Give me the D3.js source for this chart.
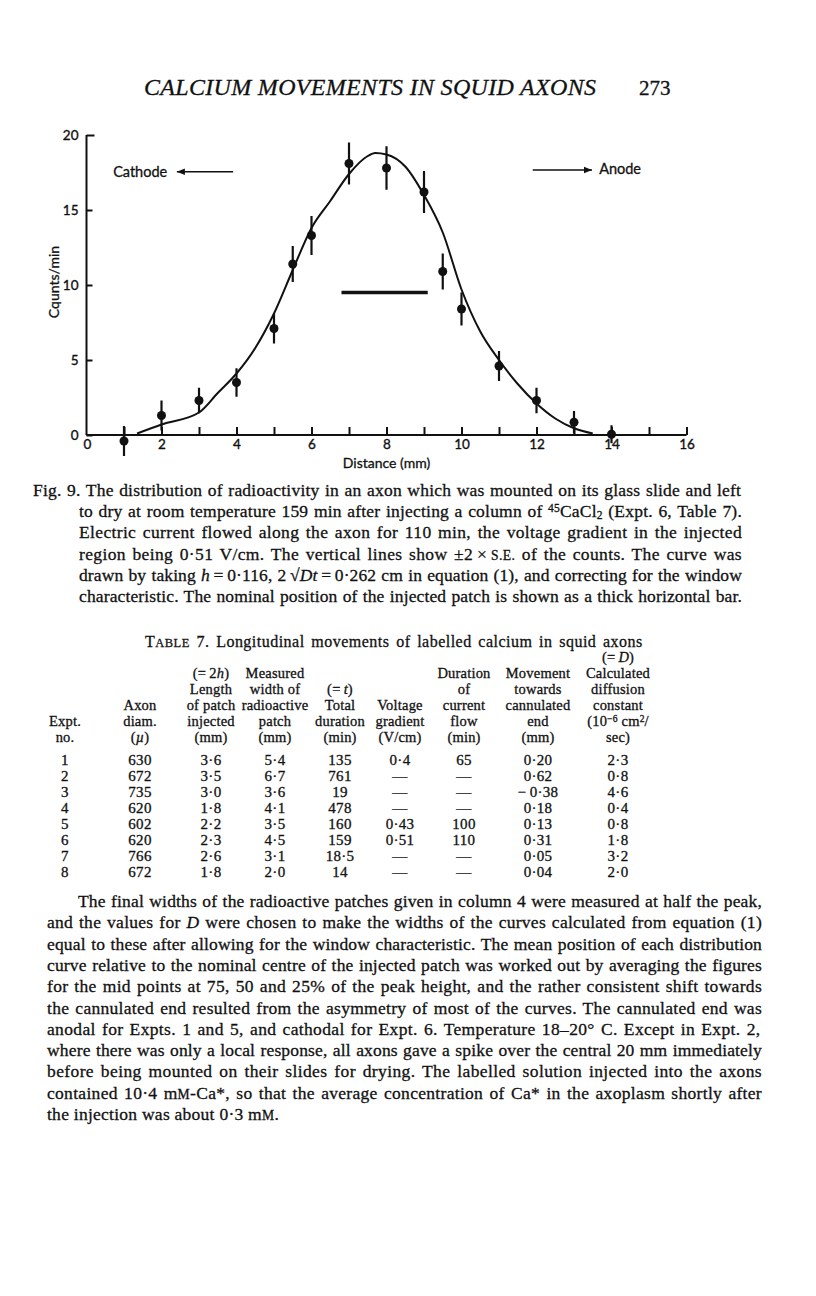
<!DOCTYPE html>
<html><head><meta charset="utf-8">
<script src="https://cdn.jsdelivr.net/npm/d3@7"></script>
<style>html,body{margin:0;padding:0;background:#fff}</style>
</head><body><svg id="page" width="816" height="1296" xmlns="http://www.w3.org/2000/svg"></svg>
<script>
// ---------- chart data (Fig. 9) ----------
const distanceMm = [1, 2, 3, 4, 5, 5.5, 6, 7, 8, 9, 9.5, 10, 11, 12, 13, 14];
const countsPerMin = [-0.4, 1.3, 2.3, 3.5, 7.1, 11.4, 13.3, 18.1, 17.8, 16.2, 10.9, 8.4, 4.6, 2.3, 0.85, 0.05];
const twoSE = [1.0, 1.0, 0.85, 0.95, 1.0, 1.2, 1.3, 1.4, 1.45, 1.4, 1.2, 1.1, 1.0, 0.85, 0.75, 0.6];
const curveX = [1.35, 2, 3, 3.5, 4, 4.5, 5, 5.5, 6, 6.5, 7, 7.5, 7.7, 8, 8.5, 9, 9.5, 10, 10.5, 11, 11.5, 12, 12.5, 13, 13.5];
const curveY = [0.1, 0.7, 1.5, 2.8, 4.1, 5.8, 8.1, 11.0, 13.8, 15.6, 17.4, 18.6, 18.8, 18.7, 17.9, 16.0, 13.5, 9.7, 6.9, 5.0, 3.4, 2.1, 1.1, 0.45, 0.1];
const patchStart = 6.8, patchEnd = 9.1, patchLevel = 9.5;
const xTicks = [1, 2, 3, 4, 5, 6, 7, 8, 9, 10, 11, 12, 13, 14, 15, 16];
const xTickLabels = [0, 2, 4, 6, 8, 10, 12, 14, 16];
const yTicks = [0, 5, 10, 15, 20];

// ---------- table data (Table 7) ----------
const exptNo = [1, 2, 3, 4, 5, 6, 7, 8];
const axonDiam = [630, 672, 735, 620, 602, 620, 766, 672];
const patchLength = [3.6, 3.5, 3.0, 1.8, 2.2, 2.3, 2.6, 1.8];
const measuredWidth = [5.4, 6.7, 3.6, 4.1, 3.5, 4.5, 3.1, 2.0];
const totalDuration = [135, 761, 19, 478, 160, 159, 18.5, 14];
const voltageGradient = [0.4, null, null, null, 0.43, 0.51, null, null];
const currentDuration = [65, null, null, null, 100, 110, null, null];
const movement = [0.20, 0.62, -0.38, 0.18, 0.13, 0.31, 0.05, 0.04];
const diffusionConst = [2.3, 0.8, 4.6, 0.4, 0.8, 1.8, 3.2, 2.0];

// ---------- texts ----------
const pageTitle = "CALCIUM MOVEMENTS IN SQUID AXONS";
const pageNumber = "273";
const captionLines = [
  "Fig. 9.  The distribution of radioactivity in an axon which was mounted on its glass slide and left",
  "to dry at room temperature 159 min after injecting a column of ^{45}CaCl_{2} (Expt. 6, Table 7).",
  "Electric current flowed along the axon for 110 min, the voltage gradient in the injected",
  "region being 0·51 V/cm. The vertical lines show ±2\u2009×\u2009~{s.e.} of the counts. The curve was",
  "drawn by taking *{h}\u2009=\u20090·116, 2\u2009√*{Dt}\u2009=\u20090·262 cm in equation (1), and correcting for the window",
  "characteristic. The nominal position of the injected patch is shown as a thick horizontal bar."
];
const tableTitle = "T~{able} 7.  Longitudinal movements of labelled calcium in squid axons";
const tableHeaders = [
  ["Expt.", "no."],
  ["Axon", "diam.", "(*{µ})"],
  ["(=\u20092*{h})", "Length", "of patch", "injected", "(mm)"],
  ["Measured", "width of", "radioactive", "patch", "(mm)"],
  ["(=\u2009*{t})", "Total", "duration", "(min)"],
  ["Voltage", "gradient", "(V/cm)"],
  ["Duration", "of", "current", "flow", "(min)"],
  ["Movement", "towards", "cannulated", "end", "(mm)"],
  ["(=\u2009*{D})", "Calculated", "diffusion", "constant", "(10^{−6} cm^{2}/", "sec)"]
];
const bodyLines = [
  "The final widths of the radioactive patches given in column 4 were measured at half the peak,",
  "and the values for *{D} were chosen to make the widths of the curves calculated from equation (1)",
  "equal to these after allowing for the window characteristic. The mean position of each distribution",
  "curve relative to the nominal centre of the injected patch was worked out by averaging the figures",
  "for the mid points at 75, 50 and 25% of the peak height, and the rather consistent shift towards",
  "the cannulated end resulted from the asymmetry of most of the curves. The cannulated end was",
  "anodal for Expts. 1 and 5, and cathodal for Expt. 6. Temperature 18–20° C.  Except in Expt. 2,",
  "where there was only a local response, all axons gave a spike over the central 20 mm immediately",
  "before being mounted on their slides for drying. The labelled solution injected into the axons",
  "contained 10·4 m~{m}-Ca*, so that the average concentration of Ca* in the axoplasm shortly after",
  "the injection was about 0·3 m~{m}."
];

// ---------- helpers ----------
const SERIF = "'Liberation Serif', 'Times New Roman', serif";
const SANS = "Lato, 'Open Sans', sans-serif";
const svg = d3.select('#page');
svg.append('rect').attr('width', 816).attr('height', 1296).attr('fill', '#fff');

function rich(g, str, x, y, size, anchor) {
  const t = g.append('text').attr('x', x).attr('y', y)
    .attr('font-family', SERIF).attr('font-size', size).attr('fill', '#111')
    .attr('stroke', '#111').attr('stroke-width', 0.3)
    .attr('text-anchor', anchor || 'start');
  const re = /([\^_*~])\{([^}]*)\}/g;
  let last = 0, m;
  while ((m = re.exec(str)) !== null) {
    if (m.index > last) t.append('tspan').text(str.slice(last, m.index));
    const s = t.append('tspan');
    if (m[1] === '^') s.attr('font-size', size * 0.66).attr('baseline-shift', '38%').text(m[2]);
    else if (m[1] === '_') s.attr('font-size', size * 0.66).attr('baseline-shift', '-20%').text(m[2]);
    else if (m[1] === '*') s.attr('font-style', 'italic').text(m[2]);
    else if (m[1] === '~') s.attr('font-size', size * 0.78).text(m[2].toUpperCase());
    last = re.lastIndex;
  }
  if (last < str.length) t.append('tspan').text(str.slice(last));
  return t;
}
// justify: put part of the slack into letter spacing, rest into word spacing
function justify(t, width, share) {
  const len = t.node().getComputedTextLength();
  const txt = t.text();
  const n = (txt.match(/ /g) || []).length;
  const chars = txt.length;
  let extra = width - len;
  let ls = Math.max(0, Math.min(1.2, extra * (share == null ? 0.55 : share) / chars));
  t.attr('letter-spacing', ls.toFixed(3));
  const len2 = t.node().getComputedTextLength();
  if (n) t.attr('word-spacing', ((width - len2) / n).toFixed(3));
  return ls;
}
const dot = s => s.replace('.', '·');

// ---------- running head ----------
svg.append('text').attr('x', 370).attr('y', 95).attr('text-anchor', 'middle')
  .attr('font-family', SERIF).attr('font-style', 'italic').attr('font-size', 24)
  .attr('textLength', 452).attr('lengthAdjust', 'spacing')
  .attr('fill', '#111').attr('stroke', '#111').attr('stroke-width', 0.3).text(pageTitle);
svg.append('text').attr('x', 639).attr('y', 95).attr('font-family', SERIF).attr('font-size', 21)
  .attr('fill', '#111').attr('stroke', '#111').attr('stroke-width', 0.3).text(pageNumber);

// ---------- chart ----------
const x = d3.scaleLinear().domain([0, 16]).range([86.5, 686.5]);
const y = d3.scaleLinear().domain([0, 20]).range([435, 135]);
const chart = svg.append('g');

const xAxis = d3.axisBottom(x).tickValues(xTicks).tickSize(-8).tickPadding(4)
  .tickFormat(d => xTickLabels.includes(d) ? d : '');
const gx = chart.append('g').attr('transform', `translate(0,${y(0)})`).call(xAxis);
gx.append('text').attr('x', x(0) + 1).attr('y', 4).attr('dy', '0.71em').attr('text-anchor', 'middle')
  .attr('fill', '#111').text(xTickLabels[0]);
const yAxis = d3.axisLeft(y).tickValues(yTicks).tickSize(-6).tickPadding(8);
const gy = chart.append('g').attr('transform', `translate(${x(0)},0)`).call(yAxis);
[gx, gy].forEach(g => {
  g.selectAll('.domain').attr('stroke', '#111').attr('stroke-width', 2);
  g.selectAll('line').attr('stroke', '#111').attr('stroke-width', 2);
  g.selectAll('text').attr('font-family', SANS).attr('font-size', 13.5).attr('fill', '#111')
    .attr('stroke', '#111').attr('stroke-width', 0.35);
});
gx.select('.domain').attr('d', `M${x(0)},0H${x(16)}`);
gy.select('.domain').attr('d', `M0,${y(0)}V${y(20)}`);
gy.selectAll('.tick').filter(d => d === 20).select('line').attr('x2', 8);

chart.append('text').attr('x', x(8)).attr('y', 468).attr('text-anchor', 'middle')
  .attr('font-family', SANS).attr('font-size', 14).attr('fill', '#111').attr('stroke', '#111').attr('stroke-width', 0.3)
  .text('Distance (mm)');
chart.append('text').attr('transform', `translate(59,${y(10.2)}) rotate(-90)`).attr('text-anchor', 'middle')
  .attr('font-family', SANS).attr('font-size', 14).attr('fill', '#111').attr('stroke', '#111').attr('stroke-width', 0.3)
  .text('Cqunts/min');

const curvePts = curveX.map((d, i) => [d, curveY[i]]);
chart.append('path').datum(curvePts)
  .attr('d', d3.line().x(d => x(d[0])).y(d => y(d[1])).curve(d3.curveMonotoneX))
  .attr('fill', 'none').attr('stroke', '#111').attr('stroke-width', 2);

const pts = distanceMm.map((d, i) => ({ d, c: countsPerMin[i], e: twoSE[i] }));
chart.append('g').selectAll('line').data(pts).join('line')
  .attr('x1', p => x(p.d)).attr('x2', p => x(p.d))
  .attr('y1', p => y(p.c - p.e)).attr('y2', p => y(p.c + p.e))
  .attr('stroke', '#111').attr('stroke-width', 2.2);
chart.append('g').selectAll('circle').data(pts).join('circle')
  .attr('cx', p => x(p.d)).attr('cy', p => y(p.c)).attr('r', 4.5).attr('fill', '#111');

chart.append('line').attr('x1', x(patchStart)).attr('x2', x(patchEnd))
  .attr('y1', y(patchLevel)).attr('y2', y(patchLevel)).attr('stroke', '#111').attr('stroke-width', 3.5);

function arrow(x1, x2, yy, dir) {
  chart.append('line').attr('x1', x(x1)).attr('x2', x(x2)).attr('y1', y(yy)).attr('y2', y(yy))
    .attr('stroke', '#111').attr('stroke-width', 1.4);
  const tip = dir < 0 ? x(x1) : x(x2);
  chart.append('path').attr('d', `M${tip},${y(yy)}l${-dir * 8},-3.2l0,6.4z`).attr('fill', '#111');
}
arrow(2.41, 3.91, 17.55, -1);
arrow(11.9, 13.48, 17.67, 1);
chart.append('text').attr('x', x(0.71)).attr('y', y(17.2)).attr('font-family', SANS).attr('font-size', 14.5)
  .attr('fill', '#111').attr('stroke', '#111').attr('stroke-width', 0.3).text('Cathode');
chart.append('text').attr('x', x(13.67)).attr('y', y(17.37)).attr('font-family', SANS).attr('font-size', 14.5)
  .attr('fill', '#111').attr('stroke', '#111').attr('stroke-width', 0.3).text('Anode');

// ---------- caption ----------
const cap = svg.append('g');
captionLines.forEach((s, i) => {
  const x0 = i === 0 ? 33 : 79;
  const t = rich(cap, s, x0, 496 + i * 21.2, 17.5);
  justify(t, 742 - x0);
});

// ---------- table ----------
const tab = svg.append('g');
const tt = rich(tab, tableTitle, 145, 647, 16);
justify(tt, 500, 0.6);
const colX = [65, 140, 211, 275, 340, 400, 464, 538, 618];
const headBottom = 742, rowStep = 16;
tableHeaders.forEach((lines, c) => {
  lines.forEach((s, k) => {
    rich(tab, s, colX[c], headBottom - (lines.length - 1 - k) * rowStep, 14.5, 'middle')
      .attr('letter-spacing', 0.2);
  });
});
const dash = '—';
const cols = [
  exptNo.map(String),
  axonDiam.map(String),
  patchLength.map(v => dot(v.toFixed(1))),
  measuredWidth.map(v => dot(v.toFixed(1))),
  totalDuration.map(v => dot(String(v))),
  voltageGradient.map(v => v == null ? dash : dot(String(v))),
  currentDuration.map(v => v == null ? dash : String(v)),
  movement.map(v => (v < 0 ? '−\u2009' : '') + dot(Math.abs(v).toFixed(2))),
  diffusionConst.map(v => dot(v.toFixed(1)))
];
cols.forEach((vals, c) => {
  vals.forEach((s, r) => {
    rich(tab, s, colX[c], 765 + r * rowStep, 15, 'middle').attr('letter-spacing', 0.3);
  });
});

// ---------- body ----------
const body = svg.append('g');
let lsSum = 0;
bodyLines.forEach((s, i) => {
  const x0 = i === 0 ? 78 : 47;
  const t = rich(body, s, x0, 907 + i * 21.3, 17.5);
  if (i < bodyLines.length - 1) lsSum += justify(t, 762 - x0);
  else t.attr('letter-spacing', (lsSum / (bodyLines.length - 1)).toFixed(3));
});
</script>
</body></html>
